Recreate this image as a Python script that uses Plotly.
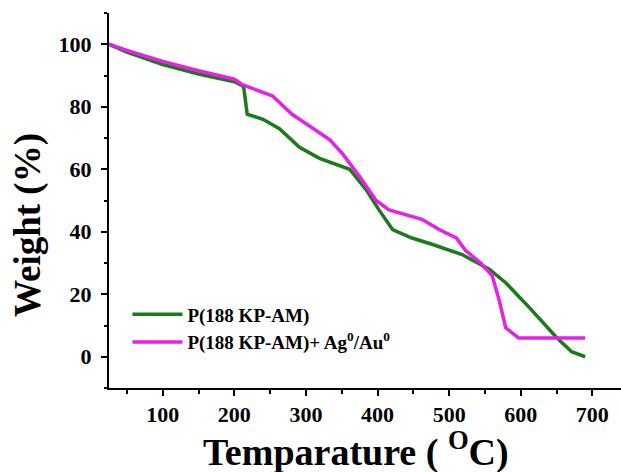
import plotly.graph_objects as go

# Data
temp_polymer = [25, 50, 100, 150, 200, 210, 213, 218, 240, 263, 291, 319, 337, 361,
                384, 402, 421, 448, 476, 518, 556, 579, 615, 649, 671, 690]
weight_polymer = [100, 97.5, 93.5, 90.5, 88, 87, 86.5, 77.6, 76, 73, 67, 63.5, 62, 60,
                  53.5, 47, 40.7, 38, 36, 32.7, 28, 23.7, 15, 6.4, 1.6, 0]

temp_composite = [25, 50, 100, 150, 200, 212, 253, 281, 291, 319, 333, 351, 375, 398,
                  416, 462, 486, 510, 523, 544, 560, 570, 579, 597, 690]
weight_composite = [100, 98, 94.5, 91.5, 88.8, 87, 83.5, 77.5, 76, 71.8, 69.5, 65, 57.7, 50,
                    47, 44, 40.7, 38, 34, 30, 26, 18, 9.3, 6, 6]

x_ticks = [100, 200, 300, 400, 500, 600, 700]
y_ticks = [0, 20, 40, 60, 80, 100]

names = ["P(188 KP-AM)", "P(188 KP-AM)+ Ag<sup>0</sup>/Au<sup>0</sup>"]
colors = ["#1b7a1b", "#e620e6"]
x_title = "Temparature ( <sup>O</sup>C)"
y_title = "Weight (%)"

FONT = "Liberation Serif"

fig = go.Figure()
fig.add_trace(go.Scatter(x=temp_polymer, y=weight_polymer, mode="lines", name=names[0],
                         line=dict(color=colors[0], width=3.5)))
fig.add_trace(go.Scatter(x=temp_composite, y=weight_composite, mode="lines", name=names[1],
                         line=dict(color=colors[1], width=3.5)))

axis_common = dict(
    showgrid=False, zeroline=False, showline=True, linecolor="black", linewidth=2,
    ticks="outside", tickcolor="black", tickwidth=2, ticklen=6, automargin=False,
    tickfont=dict(family=FONT, size=22, color="black", weight="bold"),
)

fig.update_xaxes(
    range=[25, 740], tickvals=x_ticks, ticktext=[str(v) for v in x_ticks],
    minor=dict(dtick=50, tick0=0, ticks="outside", ticklen=4, tickwidth=2, tickcolor="black"),
    **axis_common,
)
fig.update_yaxes(
    range=[-10, 110], tickvals=y_ticks, ticktext=[str(v) for v in y_ticks],
    minor=dict(dtick=10, tick0=0, ticks="outside", ticklen=3, tickwidth=2, tickcolor="black"),
    ticklabelstandoff=5,
    **axis_common,
)

title_font = dict(family=FONT, size=38, color="black", weight="bold")
fig.add_annotation(text=x_title, xref="paper", yref="paper", x=0.482, y=-0.163,
                   xanchor="center", yanchor="middle", showarrow=False, font=title_font)
fig.add_annotation(text=y_title, xref="paper", yref="paper", x=-0.158, y=0.435,
                   xanchor="center", yanchor="middle", textangle=-90, showarrow=False,
                   font=dict(family=FONT, size=37, color="black", weight="bold"))

fig.update_layout(
    width=621, height=472,
    margin=dict(l=109, r=0, t=13, b=84),
    plot_bgcolor="white", paper_bgcolor="white",
    legend=dict(x=0.036, y=0.247, xanchor="left", yanchor="top",
                bgcolor="rgba(0,0,0,0)", itemwidth=50, tracegroupgap=0,
                font=dict(family=FONT, size=19, color="black", weight="bold")),
    showlegend=True,
)

fig.write_html("out.html", config={"displayModeBar": False},
               post_script="document.body.style.margin='0';document.body.style.overflow='hidden';")
